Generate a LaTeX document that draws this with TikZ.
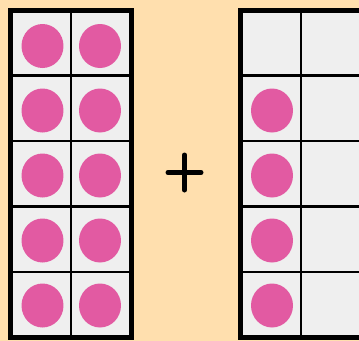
\documentclass[tikz,border=0pt]{standalone}
\usepackage{tikz}
\usetikzlibrary{shapes.geometric}
\definecolor{bgpeach}{HTML}{FFDFAE}
\definecolor{cellgray}{HTML}{EFEFEF}
\definecolor{dotpink}{HTML}{E25AA2}

\begin{document}
\begin{tikzpicture}[
		x=0.6pt,y=-0.6pt,
		counter/.style={ellipse,fill=dotpink,draw=none,minimum width=25.2pt,
			minimum height=26.4pt,inner sep=0pt},
		cell line/.style={line width=1.5pt},
		frame line/.style={line width=3.2pt}
		]
		\useasboundingbox (0,0) rectangle (359,341);
		\clip (0,0) rectangle (359,341);
		\fill[bgpeach] (0,0) rectangle (359,341);

		% the two ten frames
		\foreach \dx in {0,230} {
			\begin{scope}[shift={(\dx,0)}]
				\fill[cellgray] (10.5,10.5) rectangle (131.5,337.5);
				\draw[cell line] (71,10.5) -- (71,337.5);
				\foreach \y in {75.5,141,206.5,272}
					\draw[cell line] (10.5,\y) -- (131.5,\y);
				\draw[frame line] (10.5,10.5) rectangle (131.5,337.5);
			\end{scope}
		}

		% counters, left frame
		\node[counter] (a1) at (42.5,46)    {};
		\node[counter] (b1) at (100,46)     {};
		\node[counter] (a2) at (42.5,110.5) {};
		\node[counter] (b2) at (100,110.5)  {};
		\node[counter] (a3) at (42.5,175.5) {};
		\node[counter] (b3) at (100,175.5)  {};
		\node[counter] (a4) at (42.5,240.5) {};
		\node[counter] (b4) at (100,240.5)  {};
		\node[counter] (a5) at (42.5,305.5) {};
		\node[counter] (b5) at (100,305.5)  {};

		% counters, right frame
		\node[counter] (c2) at (272,110.5) {};
		\node[counter] (c3) at (272,175.5) {};
		\node[counter] (c4) at (272,240.5) {};
		\node[counter] (c5) at (272,305.5) {};

		% plus sign
		\coordinate (plus) at (184.5,172.5);
		\draw[line width=3pt,line cap=round] ([xshift=-16.5*0.6pt]plus) -- ([xshift=16.5*0.6pt]plus);
		\draw[line width=3pt,line cap=round] ([yshift=17.5*0.6pt]plus) -- ([yshift=-17.5*0.6pt]plus);
	\end{tikzpicture}
\end{document}
